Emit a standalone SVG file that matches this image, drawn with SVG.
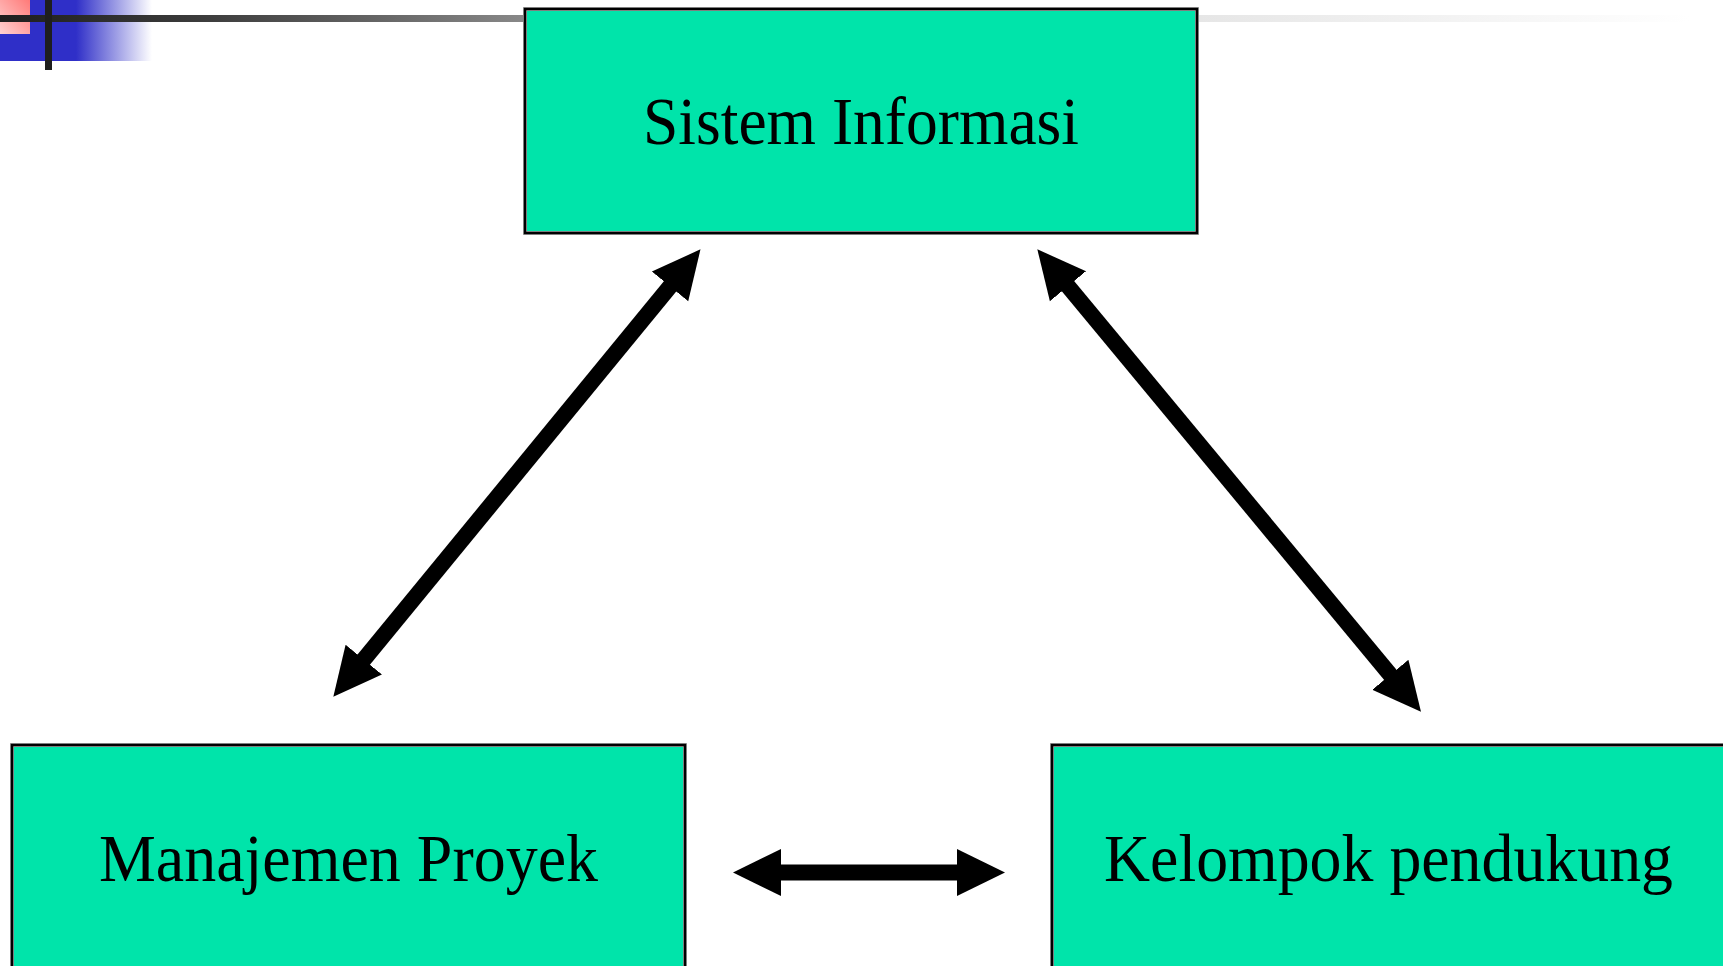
<svg xmlns="http://www.w3.org/2000/svg" width="1723" height="966" viewBox="0 0 1723 966">
  <style>
    .box-halo { fill: #00e4aa; stroke: #a8a8a8; stroke-width: 4; }
    .box-edge { fill: none; stroke: #000; stroke-width: 2.5; }
    .label { font-family: "Liberation Serif", "Times New Roman", serif; font-size: 67px; fill: #000; }
    .link { stroke: #000; stroke-width: 16; fill: none; marker-start: url(#head); marker-end: url(#head); }
  </style>
  <defs>
    <linearGradient id="rule" gradientUnits="userSpaceOnUse" x1="0" y1="0" x2="1690" y2="0">
      <stop offset="0" stop-color="#1e1e1e"/>
      <stop offset="0.12" stop-color="#3c3c3c"/>
      <stop offset="0.31" stop-color="#888888"/>
      <stop offset="0.71" stop-color="#e6e6e6"/>
      <stop offset="1" stop-color="#ffffff"/>
    </linearGradient>
    <linearGradient id="blueFade" gradientUnits="userSpaceOnUse" x1="0" y1="0" x2="152" y2="0">
      <stop offset="0" stop-color="#2f2fc8"/>
      <stop offset="0.5" stop-color="#2f2fc8"/>
      <stop offset="1" stop-color="#2f2fc8" stop-opacity="0"/>
    </linearGradient>
    <linearGradient id="pink" x1="1" y1="0" x2="0" y2="1">
      <stop offset="0" stop-color="#ff7a78"/>
      <stop offset="1" stop-color="#ffd2d2"/>
    </linearGradient>
    <marker id="head" markerUnits="userSpaceOnUse" markerWidth="50" markerHeight="50" viewBox="0 -24 50 48" refX="2" refY="0" orient="auto-start-reverse">
      <path d="M0,-23.5 L48,0 L0,23.5 Z" fill="#000"/>
    </marker>
  </defs>

  <!-- corner ornament and header rule -->
  <g id="ornament">
    <rect x="0" y="0" width="152" height="61" fill="url(#blueFade)"/>
    <rect x="0" y="0" width="30" height="34" fill="url(#pink)"/>
    <rect x="0" y="15" width="1690" height="7" fill="url(#rule)"/>
    <rect x="45" y="0" width="7" height="70" fill="#1e1e1e"/>
  </g>

  <!-- connectors -->
  <g id="connectors">
    <line class="link" x1="362.5" y1="661.1" x2="671.3" y2="284.9"/>
    <line class="link" x1="1066.7" y1="284.7" x2="1391.6" y2="676.3"/>
    <line class="link" x1="779" y1="872.5" x2="959" y2="872.5"/>
  </g>

  <!-- nodes -->
  <g id="node-sistem-informasi">
    <rect class="box-halo" x="525" y="9" width="672" height="224"/>
    <rect class="box-edge" x="525" y="9" width="672" height="224"/>
    <text class="label" x="643" y="144" textLength="436" lengthAdjust="spacingAndGlyphs">Sistem Informasi</text>
  </g>

  <g id="node-manajemen-proyek">
    <rect class="box-halo" x="12" y="745" width="673" height="240"/>
    <rect class="box-edge" x="12" y="745" width="673" height="240"/>
    <text class="label" x="99" y="881" textLength="499" lengthAdjust="spacingAndGlyphs">Manajemen Proyek</text>
  </g>

  <g id="node-kelompok-pendukung">
    <rect class="box-halo" x="1052" y="745" width="673" height="240"/>
    <rect class="box-edge" x="1052" y="745" width="673" height="240"/>
    <text class="label" x="1104" y="881" textLength="569" lengthAdjust="spacingAndGlyphs">Kelompok pendukung</text>
  </g>
</svg>
